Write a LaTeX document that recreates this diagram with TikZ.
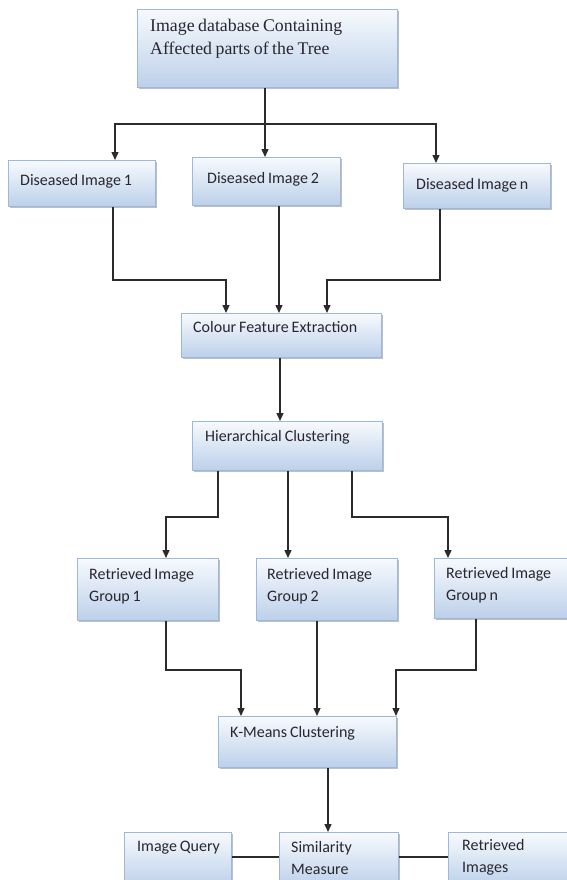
\documentclass[tikz,border=0pt]{standalone}
\usepackage{fontspec}
\newfontfamily\bodyfont[WordSpace={0.8,0.5,0.3}]{Carlito}
\newfontfamily\headfont[WordSpace={0.8,0.5,0.3}]{Liberation Serif}
\usetikzlibrary{arrows.meta,shadows}

\definecolor{boxedge}{HTML}{9CB9DD}
\definecolor{boxtop}{HTML}{F7FAFD}
\definecolor{boxbot}{HTML}{BCD0EA}
\definecolor{ink}{HTML}{2A2630}
\definecolor{wire}{HTML}{2B2B2B}

\tikzset{
  box/.style={draw=boxedge, line width=0.7pt, top color=boxtop, bottom color=boxbot,
    drop shadow={shadow xshift=1.6pt, shadow yshift=-2pt, fill=black!55, opacity=0.45},
    anchor=north west, inner sep=0pt, rectangle},
  txt/.style={anchor=west, inner sep=0pt, text=ink, align=left,
    font=\bodyfont\fontsize{16}{22}\selectfont},
  headtxt/.style={anchor=west, inner sep=0pt, text=ink, align=left,
    font=\headfont\fontsize{17.8}{23}\selectfont},
  wire/.style={draw=wire, line width=1.3pt},
  arr/.style={wire, -{Triangle[length=8pt,width=7pt]}}
}

\begin{document}
\begin{tikzpicture}[x=1pt,y=-1pt]
\useasboundingbox[fill=white] (0,0) rectangle (567,880);

% boxes
\node[box, minimum width=260pt, minimum height=78pt] (top) at (137,9) {};
\node[box, minimum width=147pt, minimum height=46pt] (d1) at (8,160) {};
\node[box, minimum width=148pt, minimum height=48pt] (d2) at (192,157) {};
\node[box, minimum width=147pt, minimum height=45pt] (d3) at (403,163) {};
\node[box, minimum width=200pt, minimum height=44pt] (cfe) at (181,313) {};
\node[box, minimum width=190pt, minimum height=49pt] (hc) at (192,421) {};
\node[box, minimum width=141pt, minimum height=62pt] (g1) at (77,558) {};
\node[box, minimum width=141pt, minimum height=62pt] (g2) at (256,558) {};
\node[box, minimum width=145pt, minimum height=60pt] (g3) at (434,558) {};
\node[box, minimum width=178pt, minimum height=51pt] (km) at (218,716) {};
\node[box, minimum width=107pt, minimum height=55pt] (iq) at (124,832) {};
\node[box, minimum width=119pt, minimum height=55pt] (sm) at (279,832) {};
\node[box, minimum width=130pt, minimum height=55pt] (ri) at (448,832) {};

% box texts
\node[headtxt] (topt) at (150,38.5) {Image database Containing\\Affected parts of the Tree};
\node[txt] (d1t) at (20,181) {Diseased Image 1};
\node[txt] (d2t) at (207,179) {Diseased Image 2};
\node[txt] (d3t) at (416,185) {Diseased Image n};
\node[txt] (cfet) at (193,327) {Colour Feature Extraction};
\node[txt] (hct) at (205,437) {Hierarchical Clustering};
\node[txt] (g1t) at (89,586) {Retrieved Image\\Group 1};
\node[txt] (g2t) at (267,586) {Retrieved Image\\Group 2};
\node[txt] (g3t) at (446,585) {Retrieved Image\\Group n};
\node[txt] (kmt) at (230,733) {K-Means Clustering};
\node[txt] (iqt) at (137,848) {Image Query};
\node[txt] (smt) at (291,858) {Similarity\\Measure};
\node[txt] (rit) at (462,857) {Retrieved\\Images};

% bend points
\coordinate (j0) at (265,124);
\coordinate (j0l) at (115,124);
\coordinate (j0r) at (436,124);
\coordinate (a1) at (113,280);
\coordinate (a1e) at (226,280);
\coordinate (a2) at (279,0);
\coordinate (a3) at (440,280);
\coordinate (a3e) at (327,280);
\coordinate (c0) at (280,0);
\coordinate (h1) at (218,517);
\coordinate (h1e) at (166,517);
\coordinate (h2) at (288,0);
\coordinate (h3) at (352,517);
\coordinate (h3e) at (448,517);
\coordinate (k1) at (166,670);
\coordinate (k1e) at (241,670);
\coordinate (k2) at (317,0);
\coordinate (k3) at (476,670);
\coordinate (k3e) at (396,670);
\coordinate (s0) at (328,0);
\coordinate (lq) at (0,857);

% database to diseased images
\draw[wire] (top.south -| j0) -- (j0);
\draw[arr] (j0) -- (j0l) -- (j0l |- d1.north);
\draw[arr] (j0) -- (j0 |- d2.north);
\draw[arr] (j0) -- (j0r) -- (j0r |- d3.north);

% diseased images to colour features
\draw[arr] (d1.south -| a1) -- (a1) -- (a1e) -- (a1e |- cfe.north);
\draw[arr] (d2.south -| a2) -- (a2 |- cfe.north);
\draw[arr] (d3.south -| a3) -- (a3) -- (a3e) -- (a3e |- cfe.north);

% colour features to hierarchical clustering
\draw[arr] (cfe.south -| c0) -- (hc.north -| c0);

% hierarchical clustering to groups
\draw[arr] (hc.south -| h1) -- (h1) -- (h1e) -- (h1e |- g1.north);
\draw[arr] (hc.south -| h2) -- (g2.north -| h2);
\draw[arr] (hc.south -| h3) -- (h3) -- (h3e) -- (h3e |- g3.north);

% groups to k-means
\draw[arr] (g1.south -| k1) -- (k1) -- (k1e) -- (k1e |- km.north);
\draw[arr] (g2.south -| k2) -- (km.north -| k2);
\draw[arr] (g3.south -| k3) -- (k3) -- (k3e) -- (k3e |- km.north);

% k-means to similarity
\draw[arr] (km.south -| s0) -- (sm.north -| s0);

% query and results
\draw[wire] (iq.east |- lq) -- (sm.west |- lq);
\draw[wire] (sm.east |- lq) -- (ri.west |- lq);
\end{tikzpicture}
\end{document}
